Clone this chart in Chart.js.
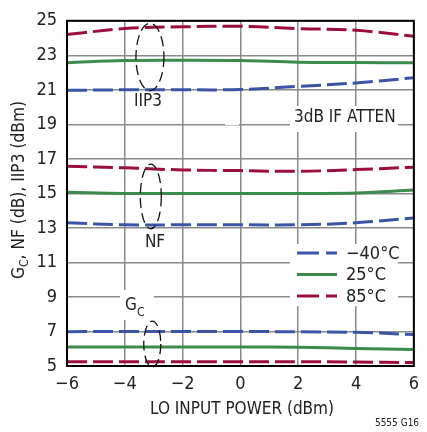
<!DOCTYPE html>
<html>
<head>
<meta charset="utf-8">
<script src="https://cdn.jsdelivr.net/npm/chart.js@4"></script>
<style>
  html, body { margin: 0; padding: 0; background: #fff; }
  #wrap { width: 427px; height: 432px; }
</style>
</head>
<body>
<div id="wrap"><canvas id="myChart" width="427" height="432"></canvas></div>
<script>
const loPower = [-6, -4, -2, 0, 2, 4, 6];

const iip3_m40 = [20.97, 21.0, 21.0, 21.02, 21.2, 21.4, 21.7];
const iip3_25 = [22.57, 22.7, 22.72, 22.7, 22.6, 22.58, 22.57];
const iip3_85 = [24.2, 24.55, 24.65, 24.68, 24.55, 24.45, 24.1];

const nf_m40 = [13.3, 13.18, 13.18, 13.18, 13.18, 13.3, 13.58];
const nf_25 = [15.06, 15.0, 15.0, 15.0, 15.0, 15.02, 15.19];
const nf_85 = [16.57, 16.48, 16.36, 16.32, 16.28, 16.38, 16.52];

const gc_m40 = [6.99, 7.0, 7.0, 7.0, 6.98, 6.95, 6.82];
const gc_25 = [6.1, 6.1, 6.1, 6.1, 6.08, 6.02, 5.95];
const gc_85 = [5.25, 5.25, 5.25, 5.25, 5.25, 5.23, 5.2];

const xTicks = [-6, -4, -2, 0, 2, 4, 6];
const yTicks = [5, 7, 9, 11, 13, 15, 17, 19, 21, 23, 25];

const BLUE = '#3b55a6';
const GREEN = '#3c8a4c';
const RED = '#9c0f3c';
const FONT = '"Liberation Sans Narrow", "DejaVu Sans Condensed", "Liberation Sans", sans-serif';

function series(vals, color, dashed) {
    return {
        data: vals.map((v, i) => ({ x: loPower[i], y: v })),
        borderColor: color,
        borderWidth: 3,
        borderDash: dashed ? [20, 6] : [],
        pointRadius: 0,
        tension: 0.4,
        fill: false
    };
}

const notes = {
    id: 'notes',
    afterDraw(chart) {
        const ctx = chart.ctx;
        const xs = chart.scales.x, ys = chart.scales.y;
        const ca = chart.chartArea;

        // dashed ellipses around each group
        ctx.save();
        ctx.strokeStyle = '#111';
        ctx.lineWidth = 1.3;
        ctx.setLineDash([10, 5]);
        [[-3.13, 24.85, 20.95, 14], [-3.1, 16.7, 12.95, 10.5], [-3.05, 7.6, 4.95, 8.5]].forEach(([cx, top, bot, rx]) => {
            const px = xs.getPixelForValue(cx);
            const py1 = ys.getPixelForValue(top), py2 = ys.getPixelForValue(bot);
            ctx.beginPath();
            ctx.ellipse(px, (py1 + py2) / 2, rx, (py2 - py1) / 2, 0, 0, Math.PI * 2);
            ctx.stroke();
        });
        ctx.restore();

        ctx.save();
        ctx.fillStyle = '#222';
        ctx.textBaseline = 'middle';
        ctx.font = '17px ' + FONT;
        ctx.textAlign = 'center';
        ctx.fillText('IIP3', 148, 102);
        ctx.fillText('NF', 155, 243);

        // G_C label with white backing over grid line
        ctx.fillStyle = '#fff';
        ctx.fillRect(120, 290, 34, 30);
        ctx.fillStyle = '#222';
        ctx.textAlign = 'left';
        ctx.fillText('G', 125, 306);
        ctx.font = '12px ' + FONT;
        ctx.fillText('C', 137, 313);

        // 3dB IF ATTEN label
        ctx.font = '17px ' + FONT;
        ctx.fillStyle = '#fff';
        ctx.fillRect(290, 106, 108, 26);
        ctx.fillRect(225, 115, 14, 10);
        ctx.fillStyle = '#222';
        ctx.textAlign = 'left';
        ctx.fillText('3dB IF ATTEN', 294, 118);

        // legend
        ctx.fillStyle = '#fff';
        ctx.fillRect(290, 244, 108, 62);
        const rows = [['\u221240\u00b0C', BLUE, true], ['25\u00b0C', GREEN, false], ['85\u00b0C', RED, true]];
        rows.forEach(([label, color, dashed], i) => {
            const y = 253 + i * 21.5;
            ctx.strokeStyle = color;
            ctx.lineWidth = 3;
            ctx.setLineDash(dashed ? [22, 7] : []);
            ctx.beginPath();
            ctx.moveTo(297, y);
            ctx.lineTo(337, y);
            ctx.stroke();
            ctx.fillStyle = '#222';
            ctx.font = '18px ' + FONT;
            ctx.fillText(label, 346, y + 1);
        });
        ctx.setLineDash([]);

        // frame
        ctx.strokeStyle = '#000';
        ctx.lineWidth = 2;
        ctx.strokeRect(ca.left, ca.top, ca.right - ca.left, ca.bottom - ca.top);

        // axis titles
        ctx.fillStyle = '#222';
        ctx.font = '17px ' + FONT;
        ctx.textAlign = 'center';
        ctx.fillText('LO INPUT POWER (dBm)', 242, 410);

        ctx.translate(20, 190);
        ctx.rotate(-Math.PI / 2);
        const main1 = 'G';
        const sub = 'C';
        const rest = ', NF (dB), IIP3 (dBm)';
        ctx.font = '17px ' + FONT;
        const w1 = ctx.measureText(main1).width;
        const w3 = ctx.measureText(rest).width;
        ctx.font = '12px ' + FONT;
        const w2 = ctx.measureText(sub).width;
        const total = w1 + w2 + w3;
        // squeeze the title to the condensed width of the original
        ctx.scale(178 / total, 1);
        let x0 = -total / 2;
        ctx.textAlign = 'left';
        ctx.font = '17px ' + FONT;
        ctx.fillText(main1, x0, 0);
        ctx.font = '12px ' + FONT;
        ctx.fillText(sub, x0 + w1, 5);
        ctx.font = '17px ' + FONT;
        ctx.fillText(rest, x0 + w1 + w2, 0);
        ctx.restore();

        ctx.save();
        ctx.fillStyle = '#222';
        ctx.font = '10px ' + FONT;
        ctx.textAlign = 'center';
        ctx.textBaseline = 'middle';
        ctx.fillText('5555 G16', 397, 423);
        ctx.restore();
    }
};

const config = {
    type: 'line',
    data: {
        datasets: [
            series(iip3_m40, BLUE, true),
            series(iip3_25, GREEN, false),
            series(iip3_85, RED, true),
            series(nf_m40, BLUE, true),
            series(nf_25, GREEN, false),
            series(nf_85, RED, true),
            series(gc_m40, BLUE, true),
            series(gc_25, GREEN, false),
            series(gc_85, RED, true)
        ]
    },
    options: {
        responsive: false,
        animation: false,
        layout: { padding: { left: 0, top: 14, right: 10, bottom: 0 } },
        plugins: {
            legend: { display: false },
            tooltip: { enabled: false }
        },
        scales: {
            x: {
                type: 'linear',
                min: -6,
                max: 6,
                afterBuildTicks: (s) => { s.ticks = xTicks.map(v => ({ value: v })); },
                afterFit: (s) => { s.height = 66; },
                ticks: {
                    color: '#222',
                    font: { family: FONT, size: 18 },
                    padding: 8,
                    callback: (v) => (v < 0 ? '\u2212' + Math.abs(v) : String(v))
                },
                grid: { color: '#8a8a8a', lineWidth: 1.5, drawTicks: false },
                border: { display: false }
            },
            y: {
                min: 5,
                max: 25,
                afterBuildTicks: (s) => { s.ticks = yTicks.map(v => ({ value: v })); },
                afterFit: (s) => { s.width = 67; },
                ticks: {
                    color: '#222',
                    font: { family: FONT, size: 18 },
                    padding: 10
                },
                grid: { color: '#8a8a8a', lineWidth: 1.5, drawTicks: false },
                border: { display: false }
            }
        }
    },
    plugins: [notes]
};

new Chart(document.getElementById('myChart'), config);
</script>
</body>
</html>
